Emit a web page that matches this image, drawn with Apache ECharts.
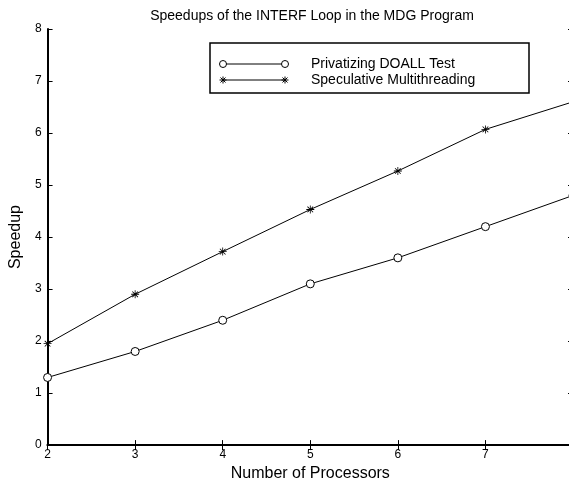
<!DOCTYPE html>
<html>
<head>
<meta charset="utf-8">
<script src="https://cdn.jsdelivr.net/npm/echarts@6/dist/echarts.min.js"></script>
<style>
  html, body { margin: 0; padding: 0; background: #fff; overflow: hidden; }
  #chart { width: 575px; height: 487px; }
</style>
</head>
<body>
<div id="chart"></div>
<script>
// Processor counts and measured speedups
const processors = [2, 3, 4, 5, 6, 7, 8];
const privatizingDoall = [1.3, 1.8, 2.4, 3.1, 3.6, 4.2, 4.8];
const speculativeMT = [1.95, 2.9, 3.72, 4.53, 5.27, 6.07, 6.6];
const seriesNames = ['Privatizing DOALL Test', 'Speculative Multithreading'];
const chartTitle = 'Speedups of the INTERF Loop in the MDG Program';
const xName = 'Number of Processors';
const yName = 'Speedup';

const FONT = 'Liberation Sans, Arial, Helvetica, sans-serif';

// asterisk marker built from four thin bars
const asterisk = 'path://M-5,-0.5L5,-0.5L5,0.5L-5,0.5Z' +
  'M-0.5,-5L0.5,-5L0.5,5L-0.5,5Z' +
  'M-3.18,-3.89L3.89,3.18L3.18,3.89L-3.89,-3.18Z' +
  'M-3.89,3.18L3.18,-3.89L3.89,-3.18L-3.18,3.89Z';

const pairs = arr => processors.map((p, i) => [p, arr[i]]);

const grid = { left: 40, top: 29, width: 533, height: 420 };
const axisLineStyle = { color: '#000', width: 2 };

// legend box: sample line with a marker at each end, then the series name
const legendBox = { x: 210, y: 43, width: 319, height: 50 };
const rowY = [64, 80];
const sampleX = [223, 285];
const textX = 311;

function legendRow(i, kind) {
  const y = rowY[i];
  const items = [
    { type: 'line', z: 11, shape: { x1: sampleX[0], y1: y, x2: sampleX[1], y2: y },
      style: { stroke: '#000', lineWidth: 1 } },
    { type: 'text', z: 11, x: textX, y: y,
      style: { text: seriesNames[i], font: '14px ' + FONT, fill: '#000', verticalAlign: 'middle' } }
  ];
  sampleX.forEach(cx => {
    if (kind === 'circle') {
      items.push({ type: 'circle', z: 12, shape: { cx: cx, cy: y, r: 3.5 },
        style: { stroke: '#000', fill: '#fff', lineWidth: 1 } });
    } else {
      const r = 3.5, d = 2.5;
      [[-r, 0, r, 0], [0, -r, 0, r], [-d, -d, d, d], [-d, d, d, -d]].forEach(s => {
        items.push({ type: 'line', z: 12,
          shape: { x1: cx + s[0], y1: y + s[1], x2: cx + s[2], y2: y + s[3] },
          style: { stroke: '#000', lineWidth: 1 } });
      });
    }
  });
  return items;
}

const chart = echarts.init(document.getElementById('chart'), null, { renderer: 'canvas' });
chart.setOption({
  animation: false,
  backgroundColor: '#fff',
  textStyle: { fontFamily: FONT },
  title: {
    text: chartTitle,
    left: 307,
    top: 4,
    textAlign: 'center',
    textStyle: { fontSize: 14, fontWeight: 'normal', color: '#000', fontFamily: FONT }
  },
  grid: grid,
  xAxis: [
    {
      type: 'value', min: 2, max: 8, interval: 1, position: 'bottom',
      name: xName, nameLocation: 'middle', nameGap: 18,
      nameTextStyle: { fontSize: 16, color: '#000', fontFamily: FONT },
      axisLine: { lineStyle: axisLineStyle },
      axisTick: { inside: true, length: 5, lineStyle: { color: '#000', width: 1 } },
      axisLabel: { color: '#000', fontSize: 12, margin: 4, showMaxLabel: false, fontFamily: FONT },
      splitLine: { show: false }
    },
    {
      type: 'value', min: 2, max: 8, interval: 1, position: 'top',
      axisLine: { lineStyle: axisLineStyle },
      axisTick: { inside: true, length: 5, lineStyle: { color: '#000', width: 1 } },
      axisLabel: { show: false },
      splitLine: { show: false }
    }
  ],
  yAxis: [
    {
      type: 'value', min: 0, max: 8, interval: 1, position: 'left',
      name: yName, nameLocation: 'middle', nameGap: 12,
      nameTextStyle: { fontSize: 16, color: '#000', fontFamily: FONT },
      axisLine: { show: true, lineStyle: axisLineStyle },
      axisTick: { show: true, inside: true, length: 5, lineStyle: { color: '#000', width: 1 } },
      axisLabel: { color: '#000', fontSize: 12, margin: 6, fontFamily: FONT },
      splitLine: { show: false }
    },
    {
      type: 'value', min: 0, max: 8, interval: 1, position: 'right',
      axisLine: { show: true, lineStyle: axisLineStyle },
      axisTick: { show: true, inside: true, length: 5, lineStyle: { color: '#000', width: 1 } },
      axisLabel: { show: false },
      splitLine: { show: false }
    }
  ],
  series: [
    {
      name: seriesNames[0], type: 'line', data: pairs(privatizingDoall),
      symbol: 'circle', symbolSize: 8, showAllSymbol: true,
      lineStyle: { color: '#000', width: 1 },
      itemStyle: { color: '#fff', borderColor: '#000', borderWidth: 1 },
      z: 3
    },
    {
      name: seriesNames[1], type: 'line', data: pairs(speculativeMT),
      symbol: asterisk, symbolSize: 8, showAllSymbol: true,
      lineStyle: { color: '#000', width: 1 },
      itemStyle: { color: '#000' },
      z: 3
    }
  ],
  graphic: [
    { type: 'rect', z: 10, shape: legendBox,
      style: { fill: '#fff', stroke: '#000', lineWidth: 1.5 } }
  ].concat(legendRow(0, 'circle'), legendRow(1, 'star'))
});
</script>
</body>
</html>
